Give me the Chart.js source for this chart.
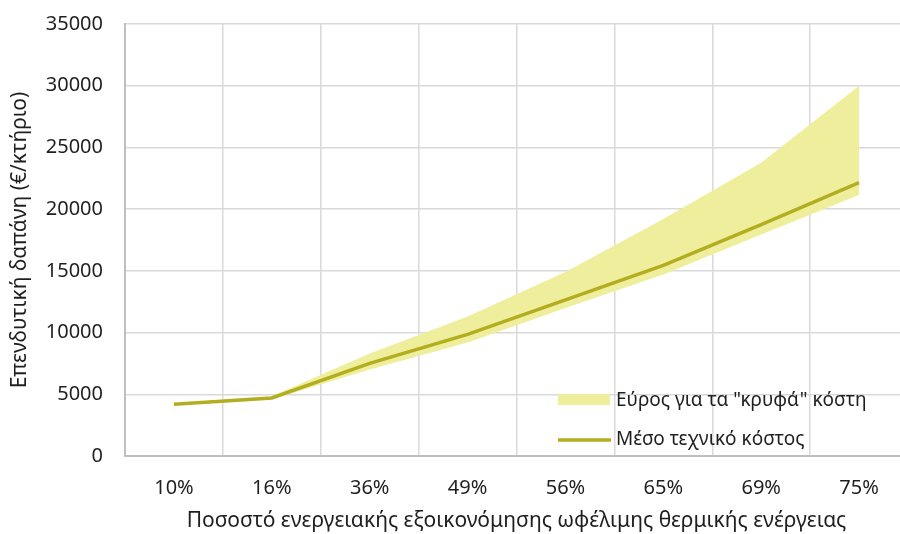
<!DOCTYPE html>
<html>
<head>
<meta charset="utf-8">
<script src="https://cdn.jsdelivr.net/npm/chart.js@4.4.1/dist/chart.umd.min.js"></script>
<style>
  html, body { margin: 0; padding: 0; background: #fff; overflow: hidden; }
  #wrap { width: 910px; height: 534px; position: relative; }
</style>
</head>
<body>
<div id="wrap"><canvas id="chart"></canvas></div>
<script>
// categories (x axis)
const savings = ['10%', '16%', '36%', '49%', '56%', '65%', '69%', '75%'];
// mean technical cost (€/building)
const meanCost = [4200, 4700, 7500, 9850, 12650, 15450, 18750, 22150];
// range for "hidden" costs
const rangeHigh = [null, 4850, 8300, 11300, 14900, 19200, 23750, 30000];
const rangeLow = [null, 4600, 7000, 9200, 12000, 14700, 17950, 21150];
const yTicks = [0, 5000, 10000, 15000, 20000, 25000, 30000, 35000];

const lineColor = '#B3AE1F';
const bandColor = '#EFEE9C';
const textColor = '#1F1F1F';
const fontFamily = '"Noto Sans", "DejaVu Sans", sans-serif';

// legend drawn inside the plot, bottom right
const insideLegend = {
    id: 'insideLegend',
    afterDraw(chart) {
        const ctx = chart.ctx;
        const x0 = 558, tx = 616;
        ctx.save();
        ctx.font = '19px ' + fontFamily;
        ctx.textBaseline = 'middle';
        // band swatch
        ctx.fillStyle = bandColor;
        ctx.fillRect(x0, 394, 52, 11);
        ctx.fillStyle = textColor;
        ctx.fillText(chart.data.datasets[1].label, tx, 401);
        // line swatch
        ctx.strokeStyle = lineColor;
        ctx.lineWidth = 3.5;
        ctx.beginPath();
        ctx.moveTo(x0, 440);
        ctx.lineTo(x0 + 53, 440);
        ctx.stroke();
        ctx.fillText(chart.data.datasets[0].label, tx, 440);
        ctx.restore();
    }
};

const ctx = document.getElementById('chart').getContext('2d');
new Chart(ctx, {
    type: 'line',
    data: {
        labels: savings,
        datasets: [
            {
                label: 'Μέσο τεχνικό κόστος',
                data: meanCost,
                borderColor: lineColor,
                backgroundColor: lineColor,
                borderWidth: 3.5,
                pointRadius: 0,
                tension: 0,
                fill: false,
                order: 0
            },
            {
                label: 'Εύρος για τα "κρυφά" κόστη',
                data: rangeHigh,
                borderWidth: 0,
                borderColor: 'rgba(0,0,0,0)',
                backgroundColor: bandColor,
                pointRadius: 0,
                tension: 0,
                fill: '+1',
                order: 1
            },
            {
                label: 'low',
                data: rangeLow,
                borderWidth: 0,
                borderColor: 'rgba(0,0,0,0)',
                backgroundColor: bandColor,
                pointRadius: 0,
                tension: 0,
                fill: false,
                order: 2
            }
        ]
    },
    options: {
        responsive: true,
        maintainAspectRatio: false,
        animation: false,
        layout: { padding: { top: 24, right: 2, left: 0, bottom: 0 } },
        plugins: {
            legend: { display: false },
            tooltip: { enabled: false }
        },
        scales: {
            x: {
                offset: true,
                grid: { offset: true, color: '#D9D9D9', lineWidth: 1.5, drawTicks: false },
                border: { color: '#BFBFBF', width: 2 },
                ticks: { color: textColor, font: { family: fontFamily, size: 20 }, padding: 20, maxRotation: 0 },
                title: {
                    display: true,
                    text: 'Ποσοστό ενεργειακής εξοικονόμησης ωφέλιμης θερμικής ενέργειας',
                    color: textColor,
                    font: { family: fontFamily, size: 21 },
                    padding: { top: 0, bottom: 0 }
                },
                afterFit(scale) { scale.height = 78; }
            },
            y: {
                min: 0,
                max: 35000,
                afterBuildTicks(scale) { scale.ticks = yTicks.map(v => ({ value: v })); },
                grid: { color: '#D9D9D9', lineWidth: 1.5, drawTicks: false },
                border: { color: '#BFBFBF', width: 2 },
                ticks: {
                    color: textColor,
                    font: { family: fontFamily, size: 20 },
                    padding: 22,
                    callback: v => String(v)
                },
                title: {
                    display: true,
                    text: 'Επενδυτική δαπάνη (€/κτήριο)',
                    color: textColor,
                    font: { family: fontFamily, size: 21 },
                    padding: { top: 7, bottom: 0 }
                },
                afterFit(scale) {
                    scale.width = 125;
                    scale.paddingTop = 0;
                    scale.paddingBottom = 0;
                }
            }
        }
    },
    plugins: [insideLegend]
});
</script>
</body>
</html>
